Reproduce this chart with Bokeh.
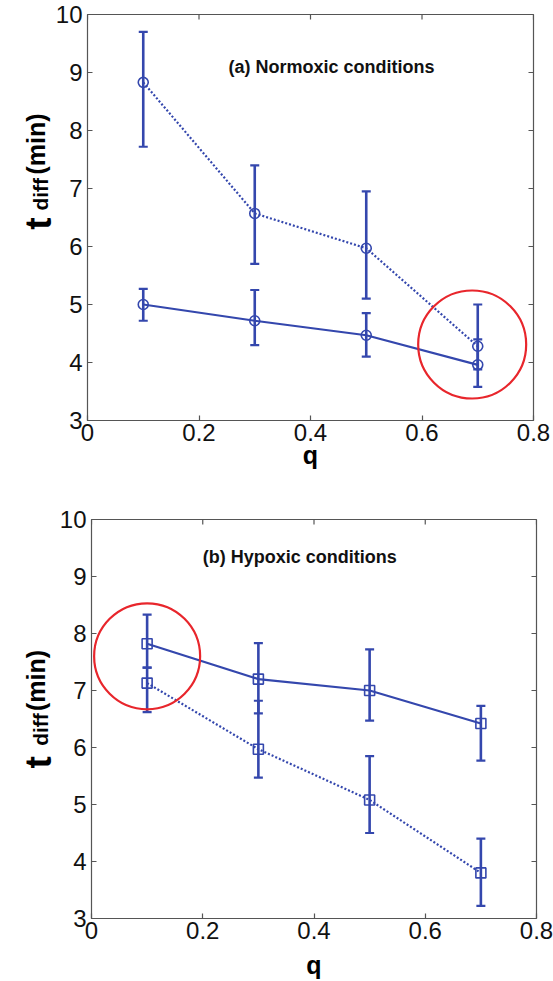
import math
from bokeh.plotting import figure
from bokeh.layouts import column, row
from bokeh.models import Range1d, LinearAxis, FixedTicker, Whisker, TeeHead, ColumnDataSource, Label
from bokeh.core.properties import value
from bokeh.embed import file_html
from bokeh.resources import INLINE

# ---------------- data ----------------
q = [0.1, 0.3, 0.5, 0.7]

# (a) Normoxic conditions
a_dot = [8.83, 6.57, 5.97, 4.28]
a_dot_lo = [7.72, 5.70, 5.10, 3.88]
a_dot_hi = [9.70, 7.40, 6.95, 5.00]
a_sol = [5.00, 4.72, 4.47, 3.96]
a_sol_lo = [4.72, 4.30, 4.10, 3.58]
a_sol_hi = [5.27, 5.25, 4.85, 4.40]

# (b) Hypoxic conditions
b_sol = [7.82, 7.20, 7.00, 6.42]
b_sol_lo = [7.40, 6.60, 6.47, 5.77]
b_sol_hi = [8.33, 7.83, 7.72, 6.73]
b_dot = [7.13, 5.97, 5.08, 3.80]
b_dot_lo = [6.62, 5.47, 4.50, 3.22]
b_dot_hi = [7.40, 6.82, 5.85, 4.40]

# highlighted points (red circles)
hl_a_x, hl_a_y = [0.69], [4.31]
hl_b_x, hl_b_y = [0.10], [7.60]

x_ticks = [0, 0.2, 0.4, 0.6, 0.8]
x_tick_labels = ["0", "0.2", "0.4", "0.6", "0.8"]
y_ticks = [3, 4, 5, 6, 7, 8, 9, 10]
y_tick_labels = ["3", "4", "5", "6", "7", "8", "9", "10"]

title_a = "(a) Normoxic conditions"
title_b = "(b) Hypoxic conditions"
x_label = "q"
y_label_parts = ["t", "diff", "(min)"]

# ---------------- style ----------------
BLUE = "#3447ad"
RED = "#e8262c"
FRAME = "#555555"
FONT = "Liberation Sans"
STRIP_W = 52


def make_panel(width, height, bl, br, bt, bb, q_standoff):
    p = figure(width=width, height=height, x_range=Range1d(0, 0.8), y_range=Range1d(3, 10),
               output_backend="svg", toolbar_location=None,
               min_border_left=bl, min_border_right=br, min_border_top=bt, min_border_bottom=bb,
               x_axis_location=None, y_axis_location=None)
    p.grid.visible = False
    p.outline_line_color = FRAME
    p.outline_line_width = 1.2
    p.border_fill_color = "white"

    xo = {t: l for t, l in zip(x_ticks, x_tick_labels)}
    yo = {t: l for t, l in zip(y_ticks, y_tick_labels)}
    for side, is_x in [("below", True), ("left", False)]:
        ax = LinearAxis(ticker=FixedTicker(ticks=x_ticks if is_x else y_ticks))
        ax.axis_line_color = None
        ax.major_tick_in = 5
        ax.major_tick_out = 0
        ax.major_tick_line_color = FRAME
        ax.major_tick_line_width = 1.2
        ax.minor_tick_line_color = None
        ax.major_label_overrides = xo if is_x else yo
        ax.major_label_text_font = FONT
        ax.major_label_text_font_size = "24px"
        ax.major_label_text_color = "#111111"
        ax.major_label_standoff = 3 if is_x else 5
        if is_x:
            ax.axis_label = x_label
            ax.axis_label_text_font = FONT
            ax.axis_label_text_font_style = "bold"
            ax.axis_label_text_font_size = "25px"
            ax.axis_label_text_color = "black"
            ax.axis_label_standoff = q_standoff
        p.add_layout(ax, side)

    # inward ticks on the top and right edges of the box
    p.ray(x=x_ticks, y=[10] * len(x_ticks), length=5, length_units="screen",
          angle=-math.pi / 2, line_color=FRAME, line_width=1.2)
    p.ray(x=[0.8] * len(y_ticks), y=y_ticks, length=5, length_units="screen",
          angle=math.pi, line_color=FRAME, line_width=1.2)
    return p


def add_series(p, y, lo, hi, dash, marker):
    src = ColumnDataSource(dict(q=q, y=y, lo=lo, hi=hi))
    p.line("q", "y", source=src, line_color=BLUE, line_width=2.2, line_dash=dash)
    w = Whisker(source=src, base="q", lower="lo", upper="hi", dimension="height",
                line_color=BLUE, line_width=2.6,
                upper_head=TeeHead(size=9, line_color=BLUE, line_width=2.2),
                lower_head=TeeHead(size=9, line_color=BLUE, line_width=2.2))
    p.add_layout(w)
    p.scatter("q", "y", source=src, marker=marker, size=10, fill_color=None,
              line_color=BLUE, line_width=1.6)


def make_strip(height, xs, ys, sizes):
    """Narrow figure (frame aligned with the panel's frame) carrying the rotated y title."""
    s = figure(width=STRIP_W, height=height, x_range=Range1d(0, STRIP_W), y_range=Range1d(3, 10),
               output_backend="svg", toolbar_location=None,
               min_border_left=0, min_border_right=0, min_border_top=0, min_border_bottom=0,
               x_axis_location=None, y_axis_location=None)
    s.grid.visible = False
    s.outline_line_color = None
    for txt, x, y, fs in zip(y_label_parts, xs, ys, sizes):
        s.text(x=[x], y=[y], text=[txt], angle=math.pi / 2, text_font=value(FONT),
               text_font_style="bold", text_font_size=fs, text_color="black",
               text_baseline="alphabetic", text_align="left")
    return s


LABEL_SIZES = ["37px", "21px", "25px"]

# ---------------- panel a ----------------
H_A, H_B = 490, 491
pa = make_panel(553 - STRIP_W, H_A, 87 - STRIP_W, 20, 14, 70, -3)
add_series(pa, a_dot, a_dot_lo, a_dot_hi, "2 2", "circle")
add_series(pa, a_sol, a_sol_lo, a_sol_hi, "solid", "circle")
pa.scatter(hl_a_x, hl_a_y, marker="circle", size=108, fill_color=None, line_color=RED, line_width=2.2)
pa.add_layout(Label(x=0.253, y=9.09, text=title_a, text_font=FONT, text_font_style="bold",
                    text_font_size="18px", text_color="#111111", text_baseline="middle"))
sa = make_strip(H_A, [38, 40, 35], [6.29, 6.62, 7.24], LABEL_SIZES)

# ---------------- panel b ----------------
pb = make_panel(553 - STRIP_W, H_B, 91 - STRIP_W, 17, 29, 60, 9)
add_series(pb, b_sol, b_sol_lo, b_sol_hi, "solid", "square")
add_series(pb, b_dot, b_dot_lo, b_dot_hi, "2 2", "square")
pb.scatter(hl_b_x, hl_b_y, marker="circle", size=106, fill_color=None, line_color=RED, line_width=2.2)
pb.add_layout(Label(x=0.20, y=9.34, text=title_b, text_font=FONT, text_font_style="bold",
                    text_font_size="18px", text_color="#111111", text_baseline="middle"))
sb = make_strip(H_B, [38, 40, 35], [5.63, 6.03, 6.64], LABEL_SIZES)

layout = column(row(sa, pa), row(sb, pb))
open("out.html", "w").write(file_html(layout, INLINE))
